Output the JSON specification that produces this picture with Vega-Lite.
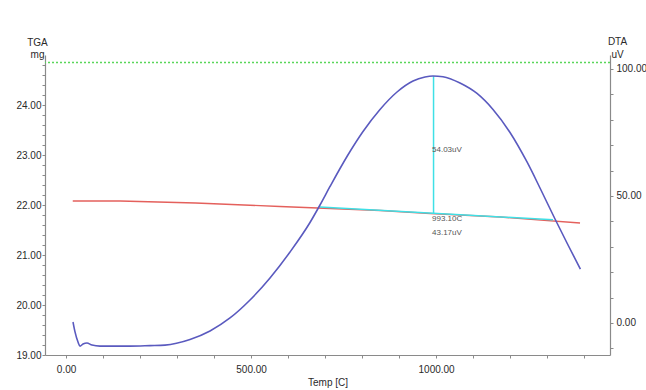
{
  "$schema": "https://vega.github.io/schema/vega-lite/v6.json",
  "width": 565,
  "height": 300,
  "autosize": {"type": "none"},
  "padding": {"left": 45, "top": 55, "right": 36, "bottom": 35},
  "background": "white",
  "config": {
    "view": {"stroke": null},
    "font": "Liberation Sans",
    "axis": {
      "domainColor": "#8a8a8a",
      "tickColor": "#8a8a8a",
      "labelColor": "#2a2a2a",
      "titleColor": "#2a2a2a",
      "labelFont": "Liberation Sans",
      "titleFont": "Liberation Sans",
      "labelFontSize": 10,
      "titleFontSize": 10,
      "titleFontWeight": "normal",
      "grid": false,
      "tickSize": 3,
      "labelOverlap": false,
      "labelFlush": false,
      "domainWidth": 1.2
    }
  },
  "datasets": {
    "dta": [
      {"T": 18.7, "D": 0.4},
      {"T": 24.1, "D": -3.5},
      {"T": 32.2, "D": -7.5},
      {"T": 37.6, "D": -9.1},
      {"T": 45.7, "D": -8.3},
      {"T": 56.5, "D": -7.9},
      {"T": 70.0, "D": -8.7},
      {"T": 91.6, "D": -9.1},
      {"T": 172.7, "D": -9.1},
      {"T": 226.8, "D": -8.9},
      {"T": 267.3, "D": -8.7},
      {"T": 334.9, "D": -6.5},
      {"T": 389.0, "D": -3.15},
      {"T": 443.0, "D": 1.97},
      {"T": 497.1, "D": 9.05},
      {"T": 551.1, "D": 17.72},
      {"T": 605.2, "D": 27.95},
      {"T": 659.2, "D": 39.56},
      {"T": 686.2, "D": 46.45},
      {"T": 713.3, "D": 53.74},
      {"T": 759.2, "D": 65.55},
      {"T": 802.5, "D": 75.39},
      {"T": 848.4, "D": 84.05},
      {"T": 894.4, "D": 90.94},
      {"T": 937.6, "D": 95.27},
      {"T": 970.0, "D": 96.84},
      {"T": 991.6, "D": 97.24},
      {"T": 1018.7, "D": 96.96},
      {"T": 1064.6, "D": 94.48},
      {"T": 1110.6, "D": 90.35},
      {"T": 1153.8, "D": 84.05},
      {"T": 1199.8, "D": 75.0},
      {"T": 1245.7, "D": 63.38},
      {"T": 1280.8, "D": 53.15},
      {"T": 1321.4, "D": 40.94},
      {"T": 1353.8, "D": 31.49},
      {"T": 1390.0, "D": 21.2}
    ],
    "tga": [
      {"T": 18, "W": 22.08},
      {"T": 146, "W": 22.08},
      {"T": 350, "W": 22.04},
      {"T": 578, "W": 21.97},
      {"T": 849, "W": 21.89},
      {"T": 984, "W": 21.83},
      {"T": 1173, "W": 21.76},
      {"T": 1389, "W": 21.64}
    ],
    "limit": [{"W": 24.85}],
    "baseline": [
      {"T": 686, "D": 45.7},
      {"T": 1316, "D": 40.6}
    ],
    "peak": [{"T": 993.1, "D": 43.17, "D2": 97.2}],
    "labels": [
      {"T": 993.1, "D": 68.1, "label": "54.03uV"},
      {"T": 993.1, "D": 40.8, "label": "993.10C"},
      {"T": 993.1, "D": 35.3, "label": "43.17uV"}
    ]
  },
  "layer": [
    {
      "encoding": {
        "y": {
          "field": "W",
          "type": "quantitative",
          "scale": {"domain": [19, 25], "nice": false, "zero": false},
          "axis": {
            "orient": "left",
            "values": [19, 19.2, 19.4, 19.6, 19.8, 20, 20.2, 20.4, 20.6, 20.8, 21, 21.2, 21.4, 21.6, 21.8, 22, 22.2, 22.4, 22.6, 22.8, 23, 23.2, 23.4, 23.6, 23.8, 24, 24.2, 24.4, 24.6, 24.8],
            "labelExpr": "abs(datum.value - round(datum.value)) < 0.001 ? format(datum.value, '.2f') : ''",
            "labelPadding": 1,
            "title": ["TGA", "mg"],
            "titleAngle": 0,
            "titleAlign": "center",
            "titleBaseline": "alphabetic",
            "titleX": -8,
            "titleY": -10,
            "titleLineHeight": 12
          }
        }
      },
      "layer": [
        {
          "data": {"name": "tga"},
          "mark": {"type": "line", "color": "#e4605c", "strokeWidth": 1.3},
          "encoding": {
            "x": {
              "field": "T", "type": "quantitative",
              "scale": {"domain": [-57, 1470], "nice": false, "zero": false},
              "axis": {
                "values": [0, 100, 200, 300, 400, 500, 600, 700, 800, 900, 1000, 1100, 1200, 1300, 1400],
                "labelExpr": "datum.value % 500 === 0 ? format(datum.value, '.2f') : ''",
                "labelPadding": 6,
                "title": "Temp [C]",
                "titlePadding": 3
              }
            }
          }
        },
        {
          "data": {"name": "limit"},
          "mark": {"type": "rule", "color": "#5ad65a", "strokeWidth": 1.5, "strokeDash": [2, 2]},
          "encoding": {}
        }
      ]
    },
    {
      "encoding": {
        "y": {
          "field": "D",
          "type": "quantitative",
          "scale": {"domain": [-12.6, 105.5], "nice": false, "zero": false},
          "axis": {
            "orient": "right",
            "values": [-10, 0, 10, 20, 30, 40, 50, 60, 70, 80, 90, 100],
            "labelExpr": "datum.value % 50 === 0 ? format(datum.value, '.2f') : ''",
            "labelPadding": 3,
            "title": ["DTA", "uV"],
            "titleAngle": 0,
            "titleAlign": "center",
            "titleBaseline": "alphabetic",
            "titleX": 7,
            "titleY": -11,
            "titleLineHeight": 13
          }
        }
      },
      "layer": [
        {
          "data": {"name": "baseline"},
          "mark": {"type": "line", "color": "#3fe0e6", "strokeWidth": 1.5},
          "encoding": {
            "x": {
              "field": "T", "type": "quantitative",
              "scale": {"domain": [-57, 1470], "nice": false, "zero": false},
              "axis": {
                "values": [0, 100, 200, 300, 400, 500, 600, 700, 800, 900, 1000, 1100, 1200, 1300, 1400],
                "labelExpr": "datum.value % 500 === 0 ? format(datum.value, '.2f') : ''",
                "labelPadding": 6,
                "title": "Temp [C]",
                "titlePadding": 3
              }
            }
          }
        },
        {
          "data": {"name": "peak"},
          "mark": {"type": "rule", "color": "#3fe0e6", "strokeWidth": 1.5},
          "encoding": {
            "x": {
              "field": "T", "type": "quantitative",
              "scale": {"domain": [-57, 1470], "nice": false, "zero": false},
              "axis": {
                "values": [0, 100, 200, 300, 400, 500, 600, 700, 800, 900, 1000, 1100, 1200, 1300, 1400],
                "labelExpr": "datum.value % 500 === 0 ? format(datum.value, '.2f') : ''",
                "labelPadding": 6,
                "title": "Temp [C]",
                "titlePadding": 3
              }
            },
            "y2": {"field": "D2"}
          }
        },
        {
          "data": {"name": "dta"},
          "mark": {"type": "line", "color": "#5a5abf", "strokeWidth": 1.6, "interpolate": "monotone"},
          "encoding": {
            "x": {
              "field": "T", "type": "quantitative",
              "scale": {"domain": [-57, 1470], "nice": false, "zero": false},
              "axis": {
                "values": [0, 100, 200, 300, 400, 500, 600, 700, 800, 900, 1000, 1100, 1200, 1300, 1400],
                "labelExpr": "datum.value % 500 === 0 ? format(datum.value, '.2f') : ''",
                "labelPadding": 6,
                "title": "Temp [C]",
                "titlePadding": 3
              }
            }
          }
        },
        {
          "data": {"name": "labels"},
          "mark": {"type": "text", "align": "left", "baseline": "middle", "dx": -1.5, "fontSize": 8, "color": "#555555", "font": "Liberation Sans"},
          "encoding": {
            "x": {
              "field": "T", "type": "quantitative",
              "scale": {"domain": [-57, 1470], "nice": false, "zero": false},
              "axis": {
                "values": [0, 100, 200, 300, 400, 500, 600, 700, 800, 900, 1000, 1100, 1200, 1300, 1400],
                "labelExpr": "datum.value % 500 === 0 ? format(datum.value, '.2f') : ''",
                "labelPadding": 6,
                "title": "Temp [C]",
                "titlePadding": 3
              }
            },
            "text": {"field": "label"}
          }
        }
      ]
    }
  ],
  "resolve": {"scale": {"y": "independent"}}
}
